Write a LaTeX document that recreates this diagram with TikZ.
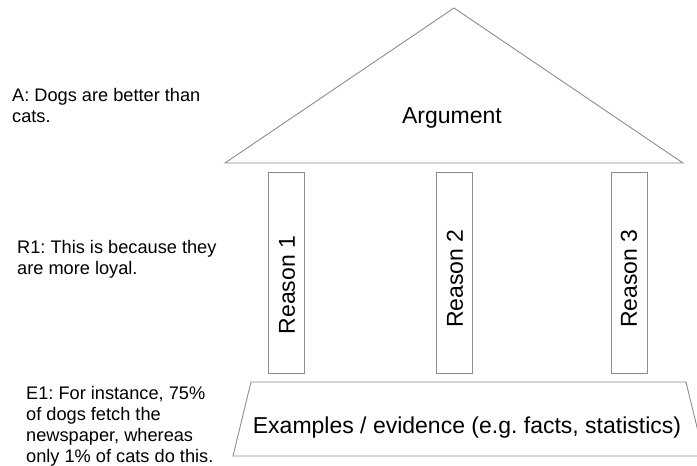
\documentclass[tikz,border=0pt]{standalone}
\usepackage{fontspec}
\setmainfont{Liberation Sans}
\frenchspacing
\begin{document}
\begin{tikzpicture}[x=1pt,y=-1pt,
  shapeline/.style={draw=black!45,line width=0.9pt},
  sidetext/.style={anchor=north west,inner sep=0pt,align=left,font=\fontsize{18.2}{21}\selectfont},
  bigtext/.style={inner sep=0pt,font=\fontsize{23}{27}\selectfont},
  pillar/.style={shapeline,minimum width=36pt,minimum height=201pt,inner sep=0pt}]
\useasboundingbox (0,0) rectangle (697,466);
% roof
\draw[shapeline] (454,8) coordinate (apex) -- (683,163) coordinate (roofr) -- (225,163) coordinate (roofl) -- cycle;
\node[bigtext,anchor=base] (arg) at (452,123) {Argument};
% pillars
\node[pillar] (p1) at (286.5,272.5) {};
\node[pillar] (p2) at (454.5,272.5) {};
\node[pillar] (p3) at (629,272.5) {};
\node[bigtext,rotate=90] (r1) at (287,285) {Reason 1};
\node[bigtext,rotate=90] (r2) at (455,278.5) {Reason 2};
\node[bigtext,rotate=90] (r3) at (629,278.5) {Reason 3};
% base
\draw[shapeline] (251,382) coordinate (bl) -- (686,382) coordinate (br) -- (704,456) coordinate (bbr) -- (233,456) coordinate (bbl) -- cycle;
\node[bigtext,anchor=base] (ex) at (467,433) {Examples / evidence (e.g. facts, statistics)};
% side texts
\node[sidetext] (ta) at (12,88.5) {A: Dogs are better than\\cats.};
\node[sidetext] (tr) at (17,240.5) {R1: This is because they\\are more loyal.};
\node[sidetext] (te) at (26,386.5) {E1: For instance, 75\%\\of dogs fetch the\\newspaper, whereas\\only 1\% of cats do this.};
\end{tikzpicture}
\end{document}
